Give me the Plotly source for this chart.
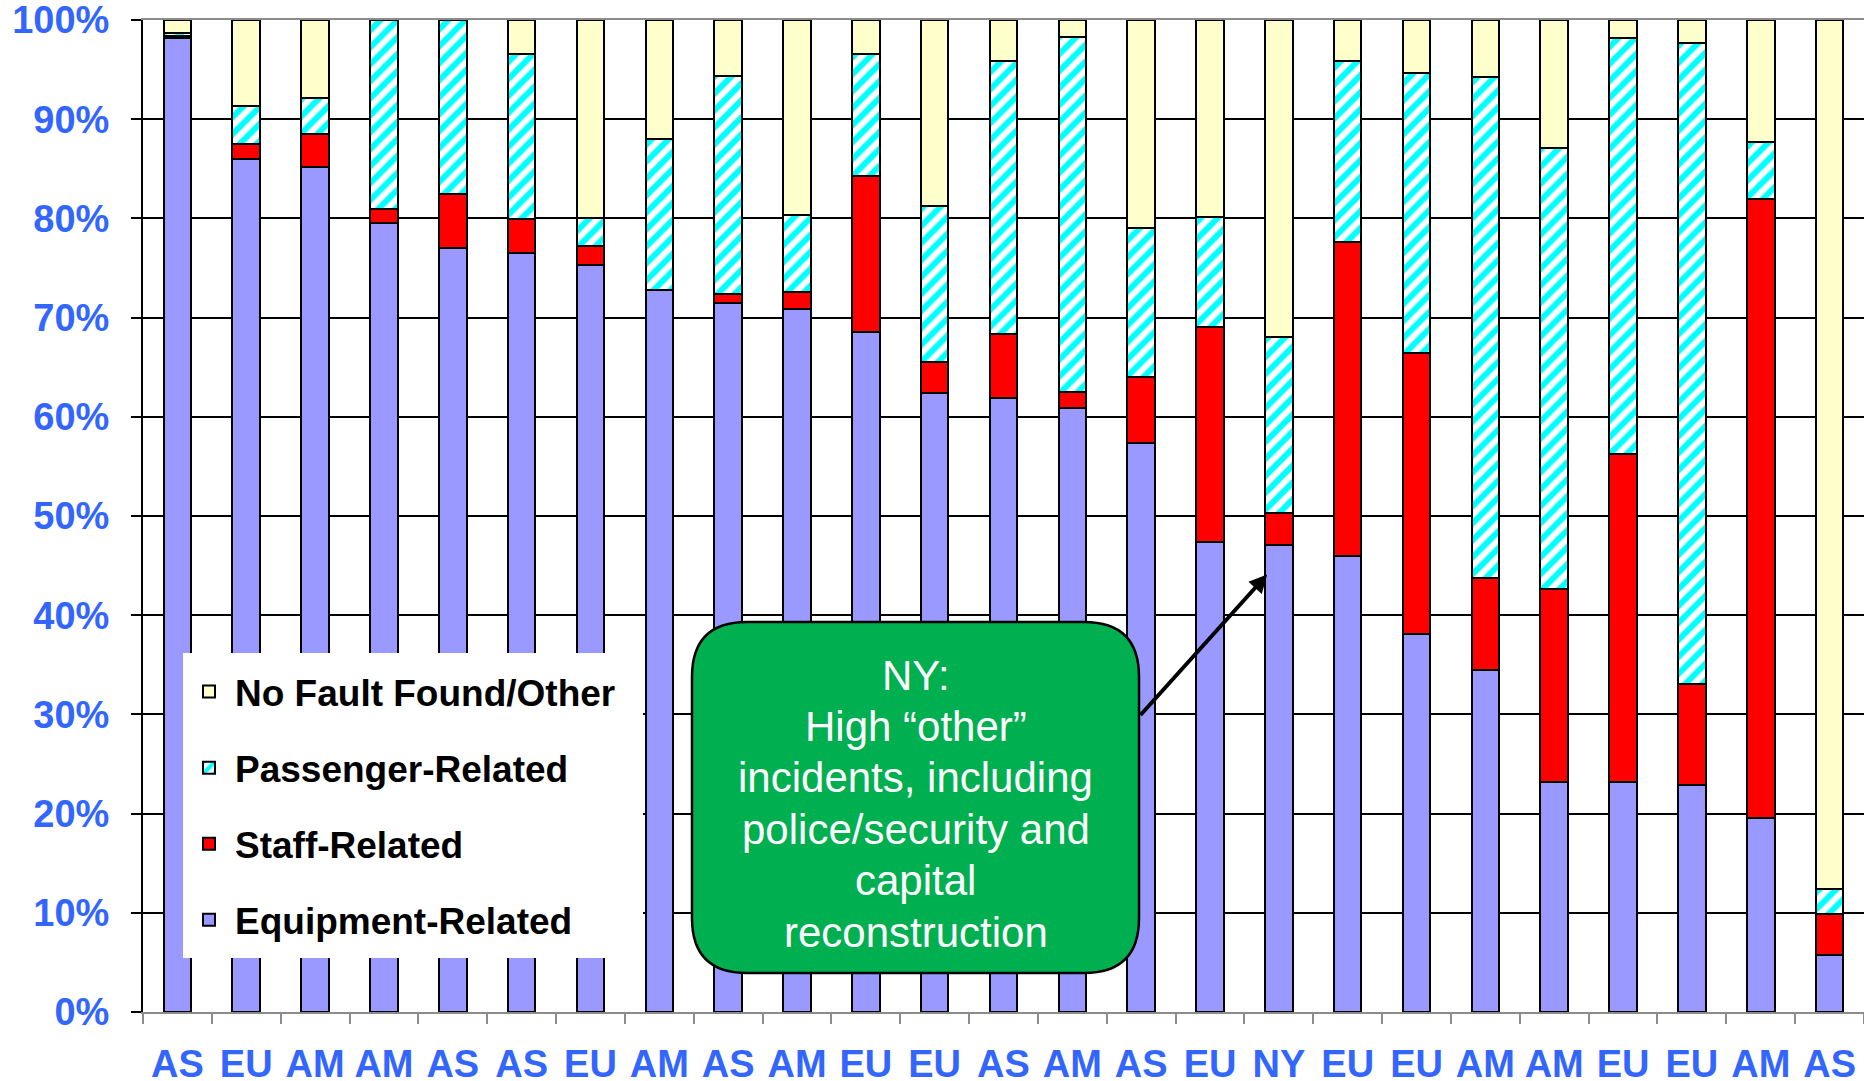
import plotly.graph_objects as go

# Region code of each line/system, left to right
regions = ["AS", "EU", "AM", "AM", "AS", "AS", "EU", "AM", "AS", "AM", "EU", "EU", "AS",
           "AM", "AS", "EU", "NY", "EU", "EU", "AM", "AM", "EU", "EU", "AM", "AS"]

# Share of incidents by cause (% of total, each column sums to 100)
equipment = [98.2, 86.0, 85.2, 79.5, 77.0, 76.5, 75.3, 72.8, 71.5, 70.9, 68.5, 62.4, 61.9,
             60.9, 57.4, 47.4, 47.1, 46.0, 38.1, 34.5, 23.2, 23.2, 22.9, 19.6, 5.7]
staff = [0.2, 1.5, 3.3, 1.4, 5.5, 3.4, 1.9, 0.0, 0.9, 1.7, 15.8, 3.1, 6.4,
         1.6, 6.6, 21.7, 3.2, 31.6, 28.3, 9.3, 19.4, 33.1, 10.2, 62.4, 4.2]
passenger = [0.3, 3.8, 3.6, 19.1, 17.5, 16.7, 2.8, 15.2, 22.0, 7.7, 12.3, 15.8, 27.6,
             35.8, 15.0, 11.0, 17.7, 18.3, 28.3, 50.5, 44.5, 41.9, 64.6, 5.7, 2.5]
no_fault = [round(100 - e - s - p, 1) for e, s, p in zip(equipment, staff, passenger)]

y_ticks = list(range(0, 101, 10))

callout_lines = ["NY:", "High \u201cother\u201d", "incidents, including",
                 "police/security and", "capital", "reconstruction"]

FONT = "Liberation Sans, Arial, sans-serif"
BLUE = "#3366FF"
W, H = 1864, 1081
ML, MR, MT, MB = 143, 0, 20, 69
PW, PH = W - ML - MR, H - MT - MB

x = list(range(len(regions)))
outline = dict(color="black", width=2)

fig = go.Figure()
fig.add_bar(x=x, y=equipment, name="Equipment-Related", legendgroup="a", legendrank=4,
            marker=dict(color="#9999FF", line=outline))
fig.add_bar(x=x, y=staff, name="Staff-Related", legendgroup="b", legendrank=3,
            marker=dict(color="#FF0000", line=outline))
fig.add_bar(x=x, y=passenger, name="Passenger-Related", legendgroup="c", legendrank=2,
            marker=dict(color="white", line=outline,
                        pattern=dict(shape="/", fgcolor="#00FFFF", bgcolor="white",
                                     size=12, solidity=0.5, fillmode="replace")))
fig.add_bar(x=x, y=no_fault, name="No Fault Found/Other", legendgroup="d", legendrank=1,
            marker=dict(color="#FFFFCC", line=outline))


def px_x(p):
    return (p - ML) / PW


def px_y(p):
    return (H - MB - p) / PH


# White panel behind the legend
fig.add_shape(type="rect", xref="paper", yref="paper",
              x0=px_x(183), x1=px_x(643), y0=px_y(958), y1=px_y(653),
              fillcolor="white", line=dict(width=0), layer="above")

# Rounded green call-out box (pixel corners converted to paper units)
bx0, bx1, by0, by1, r = px_x(692), px_x(1139), px_y(973), px_y(622), 55
rx, ry = r / PW, r / PH
box_path = (f"M{bx0 + rx},{by1} L{bx1 - rx},{by1} Q{bx1},{by1} {bx1},{by1 - ry} "
            f"L{bx1},{by0 + ry} Q{bx1},{by0} {bx1 - rx},{by0} "
            f"L{bx0 + rx},{by0} Q{bx0},{by0} {bx0},{by0 + ry} "
            f"L{bx0},{by1 - ry} Q{bx0},{by1} {bx0 + rx},{by1} Z")
fig.add_shape(type="path", path=box_path, xref="paper", yref="paper",
              fillcolor="#00B050", line=dict(color="black", width=2.5), layer="above")

# Call-out text, one line per annotation for tight line spacing
for i, line in enumerate(callout_lines):
    fig.add_annotation(
        x=(bx0 + bx1) / 2, y=px_y(675 + 51.4 * i), xref="paper", yref="paper",
        showarrow=False, xanchor="center", yanchor="middle", text=line,
        font=dict(family=FONT, size=42, color="white"))

# Arrow from the call-out to the NY column
ny = regions.index("NY")
fig.add_annotation(x=ny - 0.17, y=equipment[ny] - 3, xref="x", yref="y",
                   ax=-128, ay=142, text="", showarrow=True,
                   arrowhead=2, arrowsize=0.9, arrowwidth=4, arrowcolor="black")

fig.update_layout(
    width=W, height=H, barmode="stack", bargap=0.6,
    margin=dict(l=ML, r=MR, t=MT, b=MB, autoexpand=False),
    paper_bgcolor="white", plot_bgcolor="white",
    showlegend=True,
    legend=dict(x=px_x(183), y=px_y(661), xanchor="left", yanchor="top",
                bgcolor="rgba(255,255,255,0)", borderwidth=0, itemwidth=42,
                traceorder="grouped", tracegroupgap=25,
                font=dict(family=FONT, size=37, color="black", weight="bold")),
    xaxis=dict(range=[-0.5, len(regions) - 0.5], tickmode="array", tickvals=x,
               ticktext=regions, ticks="", showgrid=False, zeroline=False,
               showline=True, linecolor="#8C8C8C", linewidth=2, mirror=True,
               ticklabelstandoff=17, automargin=False, ticklabeloverflow="allow",
               tickfont=dict(family=FONT, size=38, color=BLUE, weight="bold"),
               minor=dict(ticks="outside", ticklen=10, tickwidth=2, tickcolor="#8C8C8C",
                          tickmode="array", tickvals=[i - 0.5 for i in range(len(regions) + 1)],
                          showgrid=False)),
    yaxis=dict(range=[0, 100], tickmode="array", tickvals=y_ticks,
               ticktext=[f"{v}%" for v in y_ticks],
               showgrid=True, gridcolor="black", gridwidth=1.5, zeroline=False,
               showline=True, linecolor="black", linewidth=2,
               ticks="outside", ticklen=10, tickwidth=2, tickcolor="black",
               ticklabelstandoff=14, automargin=False, ticklabeloverflow="allow",
               tickfont=dict(family=FONT, size=38, color=BLUE, weight="bold")),
)

fig.write_html("out.html")
